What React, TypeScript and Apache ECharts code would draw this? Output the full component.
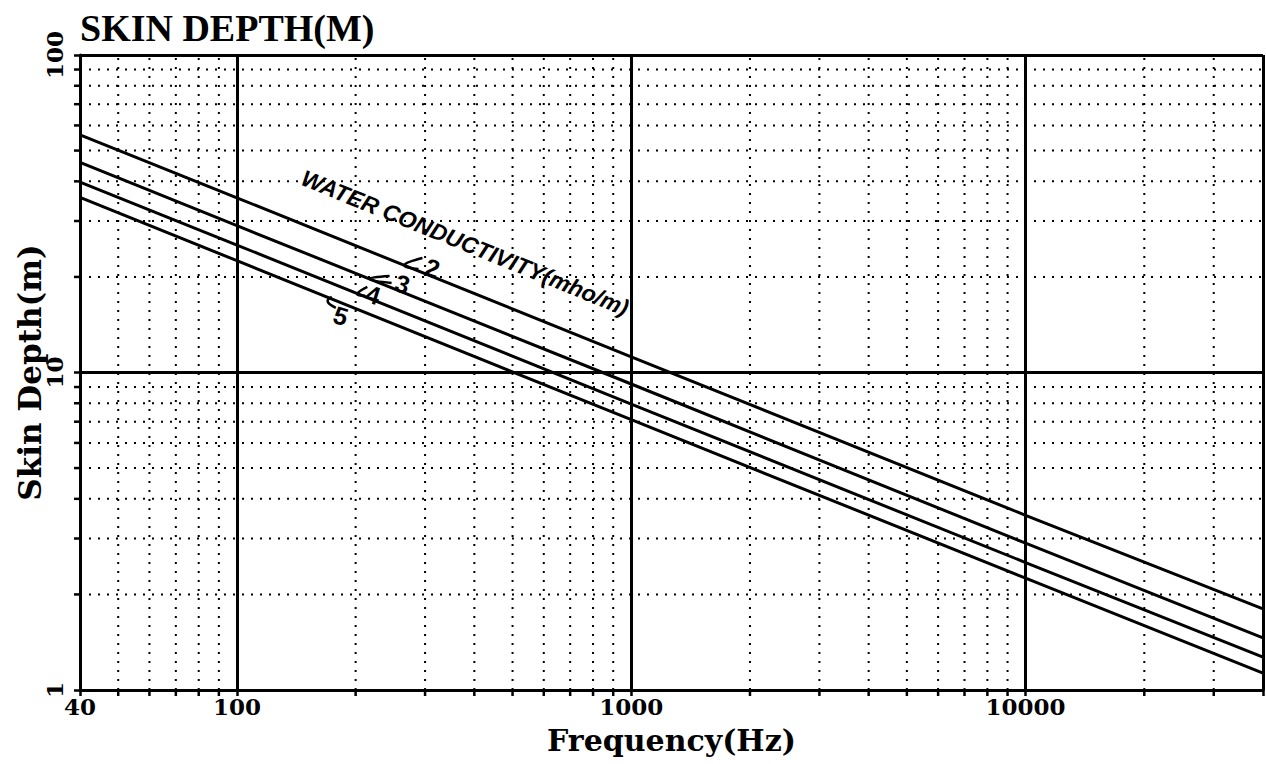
import React, { useEffect, useRef } from "react";
import * as echarts from "echarts";

// ---- data ----
const frequencies = [40, 100, 1000, 10000, 40000];
const conductivities = ["2", "3", "4", "5"];
const depthSigma2 = [56, 35.5, 11.2, 3.55, 1.8];
const depthSigma3 = [45.9, 29.0, 9.2, 2.9, 1.46];
const depthSigma4 = [39.8, 25.2, 7.95, 2.52, 1.27];
const depthSigma5 = [35.6, 22.5, 7.1, 2.25, 1.13];
const xTickLabels = ["40", "100", "1000", "10000"];
const yTickLabels = ["1", "10", "100"];
const yTickValues = [1, 10, 100];
const xMinorValues = [
  50, 60, 70, 80, 90,
  200, 300, 400, 500, 600, 700, 800, 900,
  2000, 3000, 4000, 5000, 6000, 7000, 8000, 9000,
  20000, 30000,
];
const yMinorValues = [2, 3, 4, 5, 6, 7, 8, 9, 20, 30, 40, 50, 60, 70, 80, 90];
const X_MIN = 40;
const X_MAX = 40000;
const Y_MIN = 1;
const Y_MAX = 100;

// annotation anchors (data coords) for the curve labels
const curveLabelAnchors = [
  { text: "2", f: 266, d: 21.8 },
  { text: "3", f: 217, d: 19.7 },
  { text: "4", f: 202, d: 17.7 },
  { text: "5", f: 170, d: 16.7 },
];
const annotationTitle = "WATER CONDUCTIVITY(mho/m)";
const annotationAnchor = { f: 379, d: 25.6 };

// pixel offsets (style/layout only)
const curveLabelLayout = [
  { label: [28, 3], a: [18, -7], b: [14, 4] },
  { label: [33, 5], a: [20, -3], b: [22, 4] },
  { label: [16, 1], a: [10, -7], b: [8, 2] },
  { label: [13, 14], a: [4, -5], b: [8, 6] },
];

const depthSeries = [depthSigma2, depthSigma3, depthSigma4, depthSigma5];

const labelFont = "DejaVu Serif";

export default function App() {
  const ref = useRef<HTMLDivElement>(null);

  useEffect(() => {
    if (!ref.current) return;
    const chart = echarts.init(ref.current, null, { renderer: "svg" });

    const lineSeries = depthSeries.map((vals, si) => ({
      name: conductivities[si],
      type: "line",
      data: frequencies.map((f, i) => [f, vals[i]]),
      symbol: "none",
      lineStyle: { color: "#000", width: 3 },
      silent: true,
      z: 5,
    }));

    const minorX = {
      type: "custom",
      coordinateSystem: "cartesian2d",
      data: xMinorValues.map((v) => [v, Y_MIN]),
      encode: { x: 0, y: 1 },
      clip: false,
      silent: true,
      z: 1,
      renderItem: (params: any, api: any) => {
        const v = api.value(0);
        const bot = api.coord([v, Y_MIN]);
        const top = api.coord([v, Y_MAX]);
        return {
          type: "group",
          children: [
            {
              type: "line",
              shape: { x1: bot[0], y1: bot[1], x2: top[0], y2: top[1] },
              style: { stroke: "#000", lineWidth: 2, lineDash: [2, 7] },
            },
            {
              type: "line",
              shape: { x1: bot[0], y1: bot[1], x2: bot[0], y2: bot[1] + 6 },
              style: { stroke: "#000", lineWidth: 2.5 },
            },
          ],
        };
      },
    };

    const minorY = {
      type: "custom",
      coordinateSystem: "cartesian2d",
      data: yMinorValues.map((v) => [X_MIN, v]),
      encode: { x: 0, y: 1 },
      clip: false,
      silent: true,
      z: 1,
      renderItem: (params: any, api: any) => {
        const v = api.value(1);
        const l = api.coord([X_MIN, v]);
        const r = api.coord([X_MAX, v]);
        return {
          type: "group",
          children: [
            {
              type: "line",
              shape: { x1: l[0], y1: l[1], x2: r[0], y2: r[1] },
              style: { stroke: "#000", lineWidth: 2, lineDash: [2, 7] },
            },
            {
              type: "line",
              shape: { x1: l[0], y1: l[1], x2: l[0] - 6, y2: l[1] },
              style: { stroke: "#000", lineWidth: 2.5 },
            },
          ],
        };
      },
    };

    chart.setOption({
      animation: false,
      backgroundColor: "#fff",
      title: {
        text: "SKIN DEPTH(M)",
        left: 75,
        top: 4,
        textStyle: {
          fontFamily: "Liberation Serif",
          fontWeight: "bold",
          fontSize: 38,
          color: "#000",
        },
      },
      grid: { left: 80, right: 1, top: 55, bottom: 74, containLabel: false },
      xAxis: {
        type: "log",
        logBase: 10,
        min: X_MIN,
        max: X_MAX,
        name: "Frequency(Hz)",
        nameLocation: "middle",
        nameGap: 35,
        nameMoveOverlap: false,
        nameTextStyle: {
          fontFamily: labelFont,
          fontWeight: "bold",
          fontSize: 30,
          color: "#000",
        },
        axisLine: { show: true, lineStyle: { color: "#000", width: 3 } },
        axisTick: { show: true, length: 6, lineStyle: { color: "#000", width: 2.5 } },
        axisLabel: {
          margin: 5,
          fontFamily: labelFont,
          fontWeight: "bold",
          fontSize: 23,
          color: "#000",
          formatter: (v: number) => {
            const s = String(Math.round(v));
            return xTickLabels.includes(s) ? s : "";
          },
        },
        splitLine: { show: true, lineStyle: { color: "#000", width: 3 } },
      },
      yAxis: {
        type: "log",
        logBase: 10,
        min: Y_MIN,
        max: Y_MAX,
        name: "Skin Depth(m)",
        nameLocation: "middle",
        nameGap: 35,
        nameMoveOverlap: false,
        nameTextStyle: {
          fontFamily: labelFont,
          fontWeight: "bold",
          fontSize: 31,
          color: "#000",
        },
        axisLine: { show: true, lineStyle: { color: "#000", width: 3 } },
        axisTick: { show: true, length: 6, lineStyle: { color: "#000", width: 2.5 } },
        axisLabel: { show: false },
        splitLine: { show: true, lineStyle: { color: "#000", width: 3 } },
      },
      series: [minorX, minorY, ...lineSeries],
    });

    // annotations placed through the chart's own coordinate conversion
    const graphics: any[] = [];

    // rotated y tick labels
    yTickValues.forEach((v, i) => {
      const p = chart.convertToPixel({ gridIndex: 0 }, [X_MIN, v]) as number[];
      graphics.push({
        type: "text",
        x: p[0] - 26,
        y: p[1],
        rotation: Math.PI / 2,
        z: 10,
        style: {
          text: yTickLabels[i],
          fontFamily: labelFont,
          fontWeight: "bold",
          fontSize: 23,
          fill: "#000",
          align: "center",
          verticalAlign: "middle",
          textAlign: "center",
          textVerticalAlign: "middle",
        },
      });
    });

    const c = chart.convertToPixel({ gridIndex: 0 }, [annotationAnchor.f, annotationAnchor.d]) as number[];
    graphics.push({
      type: "text",
      x: c[0],
      y: c[1],
      rotation: -0.385,
      z: 10,
      style: {
        text: annotationTitle,
        fontFamily: "Liberation Sans",
        fontStyle: "italic",
        fontWeight: "bold",
        fontSize: 23,
        fill: "#000",
        align: "center",
        verticalAlign: "middle",
        textAlign: "center",
        textVerticalAlign: "middle",
      },
    });
    curveLabelAnchors.forEach((an, i) => {
      const p = chart.convertToPixel({ gridIndex: 0 }, [an.f, an.d]) as number[];
      const lay = curveLabelLayout[i];
      const ax = p[0] + lay.a[0];
      const ay = p[1] + lay.a[1];
      const bx = p[0] + lay.b[0];
      const by = p[1] + lay.b[1];
      const cx = (4 * p[0] - ax - bx) / 2;
      const cy = (4 * p[1] - ay - by) / 2;
      graphics.push({
        type: "bezierCurve",
        z: 10,
        shape: { x1: ax, y1: ay, x2: bx, y2: by, cpx1: cx, cpy1: cy },
        style: { stroke: "#000", lineWidth: 2.5, fill: "none" },
      });
      graphics.push({
        type: "text",
        x: p[0] + lay.label[0],
        y: p[1] + lay.label[1],
        rotation: -0.3,
        z: 10,
        style: {
          text: an.text,
          fontFamily: "Liberation Sans",
          fontWeight: "bold",
          fontSize: 25,
          fill: "#000",
          align: "center",
          verticalAlign: "middle",
          textAlign: "center",
          textVerticalAlign: "middle",
        },
      });
    });
    chart.setOption({ graphic: graphics });

    return () => chart.dispose();
  }, []);

  return (
    <div
      ref={ref}
      style={{ position: "fixed", left: 0, top: 0, width: 1266, height: 764, background: "#fff" }}
    />
  );
}
